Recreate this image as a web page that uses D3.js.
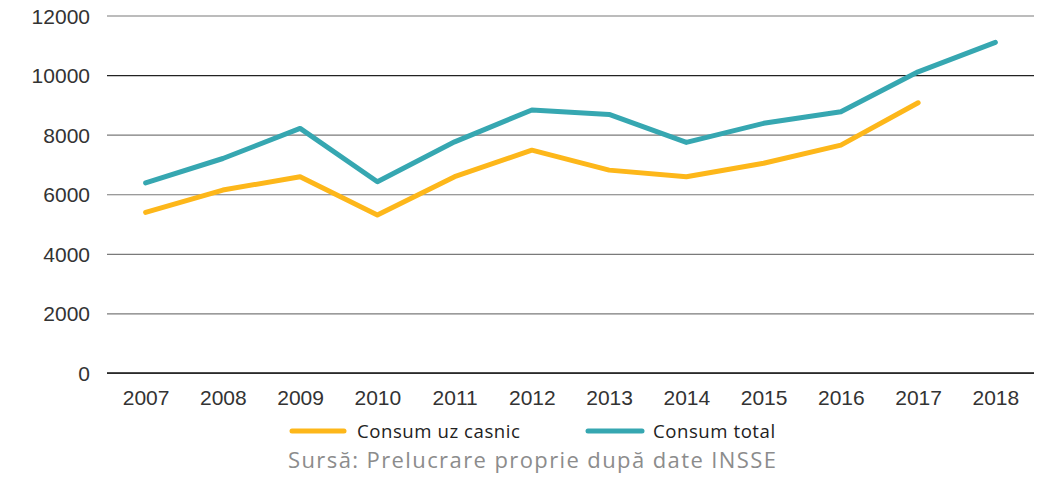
<!DOCTYPE html>
<html>
<head>
<meta charset="utf-8">
<script src="https://cdn.jsdelivr.net/npm/d3@7"></script>
<style>
  html, body { margin: 0; padding: 0; background: #fff; }
  svg { display: block; }
</style>
</head>
<body>
<svg id="chart" width="1049" height="485"></svg>
<script>
// Energy consumption, 2007–2018
const years = ["2007","2008","2009","2010","2011","2012","2013","2014","2015","2016","2017","2018"];
const consumCasnic = [5390, 6140, 6590, 5300, 6590, 7480, 6810, 6590, 7040, 7650, 9070, null];
const consumTotal  = [6380, 7200, 8210, 6420, 7760, 8830, 8680, 7740, 8380, 8770, 10110, 11100];
const yTicks = [0, 2000, 4000, 6000, 8000, 10000, 12000];
const seriesNames = ["Consum uz casnic", "Consum total"];
const seriesColors = ["#FDB71A", "#36A7B1"];
const sourceText = "Sursă: Prelucrare proprie după date INSSE";

const svg = d3.select("#chart");
const margin = { left: 107, right: 15 };
const W = 1049;
const tickFont = "'Liberation Sans', Arial, sans-serif";
const textFont = "'Open Sans', 'Noto Sans', sans-serif";

const x = d3.scalePoint().domain(years).range([margin.left, W - margin.right]).padding(0.5);
const y = d3.scaleLinear().domain([0, 12000]).range([373, 15.5]);

// horizontal gridlines with value labels
const yAxis = d3.axisLeft(y).tickValues(yTicks)
  .tickSize(-(W - margin.right - margin.left)).tickPadding(17).tickFormat(d3.format("d"));
const gy = svg.append("g").attr("transform", `translate(${margin.left},0)`).call(yAxis);
gy.select(".domain").remove();
gy.selectAll(".tick line")
  .attr("stroke", d => d === 10000 ? "#222" : "#7a7a7a")
  .attr("stroke-width", 1.2);
gy.selectAll(".tick text")
  .attr("font-family", tickFont)
  .attr("font-size", 21)
  .attr("dy", "0.36em")
  .attr("fill", "#333");

// baseline
svg.append("line")
  .attr("x1", margin.left).attr("x2", W - margin.right)
  .attr("y1", y(0)).attr("y2", y(0))
  .attr("stroke", "#111").attr("stroke-width", 1.6);

// year labels
const xAxis = d3.axisBottom(x).tickSize(0).tickPadding(17);
const gx = svg.append("g").attr("transform", `translate(0,${y(0)})`).call(xAxis);
gx.select(".domain").remove();
gx.selectAll(".tick text")
  .attr("font-family", tickFont)
  .attr("font-size", 21)
  .attr("fill", "#333");

// series lines
const line = d3.line()
  .defined(d => d.v != null)
  .x(d => x(d.year))
  .y(d => y(d.v));

[consumCasnic, consumTotal].forEach((vals, i) => {
  const data = years.map((yr, j) => ({ year: yr, v: vals[j] }));
  svg.append("path")
    .datum(data)
    .attr("fill", "none")
    .attr("stroke", seriesColors[i])
    .attr("stroke-width", 5)
    .attr("stroke-linejoin", "round")
    .attr("stroke-linecap", "round")
    .attr("d", line);
});

// legend
const legendItems = [
  { x1: 292, x2: 344, tx: 357 },
  { x1: 588, x2: 642, tx: 653 }
];
legendItems.forEach((it, i) => {
  svg.append("line")
    .attr("x1", it.x1).attr("x2", it.x2)
    .attr("y1", 431).attr("y2", 431)
    .attr("stroke", seriesColors[i])
    .attr("stroke-width", 5)
    .attr("stroke-linecap", "round");
  svg.append("text")
    .attr("x", it.tx).attr("y", 438)
    .attr("font-family", textFont)
    .attr("font-size", 18.6)
    .attr("letter-spacing", 0.55)
    .attr("fill", "#222")
    .text(seriesNames[i]);
});

// source line
svg.append("text")
  .attr("x", 288).attr("y", 468)
  .attr("font-family", textFont)
  .attr("font-size", 22)
  .attr("letter-spacing", 1.4)
  .attr("fill", "#8c8c8c")
  .text(sourceText);
</script>
</body>
</html>
